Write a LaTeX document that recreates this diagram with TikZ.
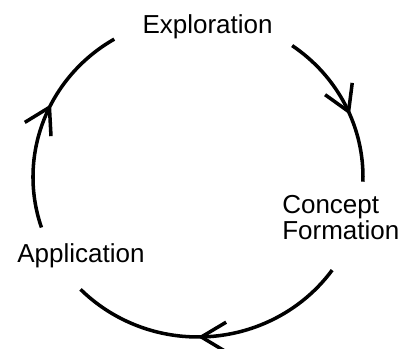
\documentclass[tikz,border=0pt]{standalone}
\usepackage{fontspec}
\setmainfont{Liberation Sans}
\usetikzlibrary{arrows.meta, calc, decorations.markings}

\begin{document}
\begin{tikzpicture}[
    stage/.style={inner sep=0pt, font=\fontsize{18.5}{16}\selectfont},
    flow/.style={line width=2.5pt, postaction={decorate}, decoration={markings, mark=at position #1 with {\arrow{Straight Barb[length=6.2mm, width=7.4mm]}}}},
    flow/.default=0.57
]
    \useasboundingbox (0,0) rectangle (10.3,8.725);
    \coordinate (hub) at (4.95,4.3);

    \node[stage, anchor=base] (explore) at (5.19,7.89) {Exploration};
    \node[stage, anchor=base west, align=left] (concept) at (7.05,2.74) {Concept\\Formation};
    \node[stage, anchor=base west] (apply) at (0.425,2.17) {Application};

    % ends of the three arcs
    \coordinate (explore-out) at ($(hub)+(55.2:4.125 and 4)$);
    \coordinate (concept-out) at ($(hub)+(-35.6:4.125 and 4)$);
    \coordinate (apply-out) at ($(hub)+(198.4:4.125 and 4)$);

    \draw[flow=0.57] (explore-out) arc[start angle=55.2, end angle=-1.7, x radius=4.125, y radius=4];
    \draw[flow=0.545] (concept-out) arc[start angle=-35.6, end angle=-135.4, x radius=4.125, y radius=4];
    \draw[flow=0.58] (apply-out) arc[start angle=198.4, end angle=120.5, x radius=4.125, y radius=4];
\end{tikzpicture}
\end{document}
